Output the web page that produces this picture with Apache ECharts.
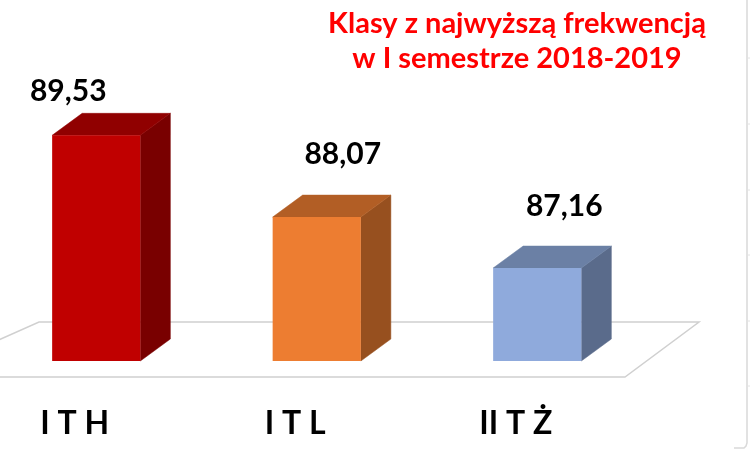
<!DOCTYPE html>
<html><head><meta charset="utf-8">
<style>html,body{margin:0;padding:0;background:#fff}#c{width:750px;height:449px}</style>
<script src="https://cdn.jsdelivr.net/npm/echarts@6/dist/echarts.min.js"></script>
</head><body><div id="c"></div>
<script>
const categories = ['I T H', 'I T L', 'II T Ż'];
const values = [89.53, 88.07, 87.16];
const frontColors = ['#c00000', '#ed7d31', '#8faadc'];
const topColors = ['#900000', '#b25e25', '#6b80a5'];
const sideColors = ['#790000', '#97501f', '#5a6b8b'];
const labelShifts = [[-28, -22], [26, -41], [27, -40]];
const titleLines = ['Klasy z najwyższą frekwencją', 'w I semestrze 2018-2019'];
const sheetRows = [58, 124, 190, 255, 321, 386];

const font = 'Lato, sans-serif';
const chart = echarts.init(document.getElementById('c'), null, {renderer: 'canvas'});
const DX = 30, DY = 22;

function poly(points, fill) {
  return {type: 'polygon', shape: {points}, style: {fill, stroke: fill, lineWidth: 0.5}};
}

chart.setOption({
  animation: false,
  backgroundColor: '#fff',
  title: {
    text: titleLines.join('\n'),
    left: 512, top: 1, textAlign: 'center',
    textStyle: {color: '#ff0000', fontFamily: font, fontWeight: 'bold', fontSize: 29, lineHeight: 35}
  },
  graphic: [
    {type: 'polyline', silent: true, z: 0,
      shape: {points: [[747, 0], [747, 443], [746, 446], [744, 448], [741, 448], [734, 448]]},
      style: {fill: 'none', stroke: '#d9d9d9', lineWidth: 1.5}},
    ...sheetRows.map(y => ({type: 'line', silent: true, z: 0, shape: {x1: 747, y1: y, x2: 750, y2: y},
      style: {stroke: '#e2e2e2', lineWidth: 1}}))
  ],
  grid: {left: -14, width: 661.5, top: 109, height: 252, outerBoundsMode: 'none', containLabel: false},
  xAxis: {
    type: 'category', data: categories,
    axisLine: {show: false}, axisTick: {show: false},
    axisLabel: {color: '#000', fontFamily: font, fontWeight: 'bold', fontSize: 32, margin: 47,
      padding: [0, 43, 0, 0]}
  },
  yAxis: {type: 'value', min: 85.5, max: 90, show: false, splitLine: {show: false}},
  series: [
    {
      type: 'custom', z: 1, silent: true, data: [0],
      renderItem(params) {
        const c = params.coordSys, b = c.y + c.height;
        return {type: 'polygon', shape: {points: [
          [c.x + 53, b - 39], [c.x + 713, b - 39], [c.x + 639, b + 16], [c.x - 10, b + 16], [c.x - 10, b - 11]
        ]}, style: {stroke: '#d0d0d0', fill: '#fff', lineWidth: 1.5}};
      }
    },
    {
      type: 'custom', z: 2, silent: true,
      data: values.map((v, i) => [i, v]),
      encode: {x: 0, y: 1},
      renderItem(params, api) {
        const i = api.value(0), v = api.value(1);
        const top = api.coord([i, v]);
        const base = api.coord([i, 85.5]);
        const w = api.size([1, 0])[0] * 0.4;
        const l = top[0] - w / 2, r = top[0] + w / 2, t = top[1], b = base[1];
        return {type: 'group', children: [
          poly([[r, t], [r + DX, t - DY], [r + DX, b - DY], [r, b]], sideColors[i]),
          poly([[l, t], [l + DX, t - DY], [r + DX, t - DY], [r, t]], topColors[i]),
          {type: 'rect', shape: {x: l, y: t, width: w, height: b - t}, style: {fill: frontColors[i]}},
          {type: 'text', style: {
            x: top[0] + labelShifts[i][0], y: t - DY + labelShifts[i][1],
            text: v.toFixed(2).replace('.', ','),
            fill: '#000', font: 'bold 30px ' + font, align: 'center', verticalAlign: 'middle'
          }}
        ]};
      }
    }
  ]
});
</script></body></html>
